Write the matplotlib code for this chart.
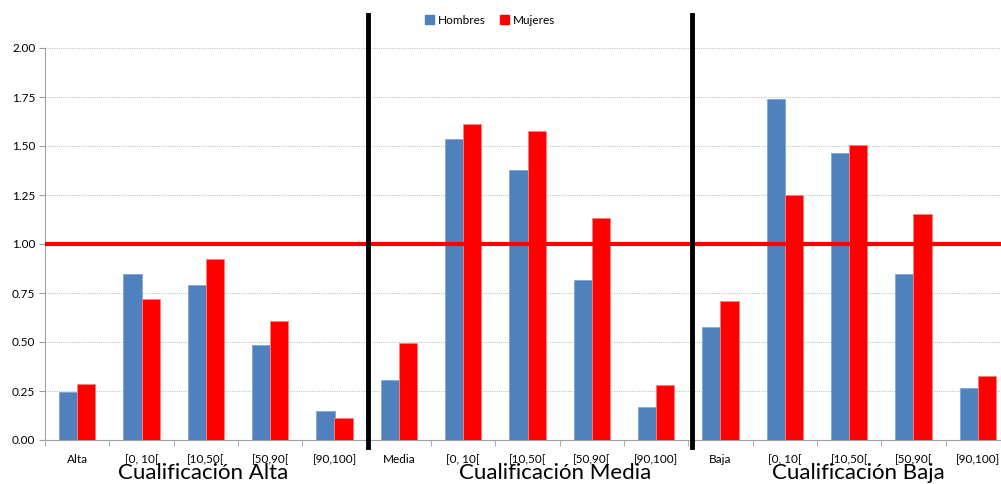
import matplotlib
matplotlib.use('Agg')
import matplotlib.pyplot as plt
from matplotlib.patches import Patch
import numpy as np

plt.rcParams['font.family'] = ['Lato', 'DejaVu Sans']

# categories per qualification group
categorias = ['Alta', '[0, 10[', '[10,50[', '[50,90[', '[90,100]',
              'Media', '[0, 10[', '[10,50[', '[50,90[', '[90,100]',
              'Baja', '[0, 10[', '[10,50[', '[50,90[', '[90,100]']
hombres = [0.245, 0.847, 0.790, 0.485, 0.148,
           0.306, 1.536, 1.378, 0.816, 0.168,
           0.577, 1.740, 1.464, 0.847, 0.265]
mujeres = [0.286, 0.720, 0.923, 0.607, 0.112,
           0.495, 1.612, 1.577, 1.133, 0.281,
           0.709, 1.250, 1.505, 1.153, 0.327]
grupos = ['Cualificación Alta', 'Cualificación Media', 'Cualificación Baja']
referencia = 1.0

fig = plt.figure(figsize=(10.01, 4.84), dpi=100)
ax = fig.add_axes([45 / 1001, 44 / 484, 965 / 1001, 392 / 484])

x = np.arange(len(categorias))
w = 0.28
ax.bar(x - w / 2, hombres, w, color='#4f81bd', edgecolor='#7fa6d6', linewidth=0.6, label='Hombres', zorder=3)
ax.bar(x + w / 2, mujeres, w, color='#ff0000', edgecolor='#ff8080', linewidth=0.6, label='Mujeres', zorder=3)

ax.set_xlim(-0.5, len(categorias) - 0.5)
ax.set_ylim(0, 2.0)
ax.set_yticks(np.arange(0, 2.01, 0.25))
ax.set_yticklabels([f'{v:.2f}' for v in np.arange(0, 2.01, 0.25)], fontsize=8.5)
ax.yaxis.grid(True, color='#c4c4c4', linestyle=(0, (1, 1)), linewidth=0.8, zorder=0)

ax.set_xticks(x)
ax.set_xticklabels(categorias, fontsize=8.5)
ax.tick_params(axis='x', length=0, pad=10)
ax.set_xticks(np.arange(-0.5, len(categorias), 1), minor=True)
ax.tick_params(axis='x', which='minor', length=4, color='#a0a0a0')
ax.tick_params(axis='y', length=4, color='#a0a0a0', pad=3)

for s in ['top', 'right']:
    ax.spines[s].set_visible(False)
for s in ['left', 'bottom']:
    ax.spines[s].set_color('#a0a0a0')

# reference line at 1
ax.axhline(referencia, color='#ff0000', linewidth=3, zorder=4)

# group separators
for xs in [4.52, 9.55]:
    ax.plot([xs, xs], [-0.035, 2.17], color='black', linewidth=3.5, clip_on=False, zorder=5)

# group labels below the axis
for xp, g in zip([203, 555, 858], grupos):
    fig.text(xp / 1001, 1 - 473 / 484, g, ha='center', va='center', fontsize=16)

handles = [Patch(color='#4f81bd', label='Hombres'), Patch(color='#ff0000', label='Mujeres')]
fig.legend(handles=handles, loc='center', bbox_to_anchor=(490 / 1001, 1 - 20 / 484), ncol=2,
           frameon=False, fontsize=8.5, handlelength=0.8, handleheight=0.8,
           handletextpad=0.3, columnspacing=1.2)

fig.savefig('out.png', dpi=100)
